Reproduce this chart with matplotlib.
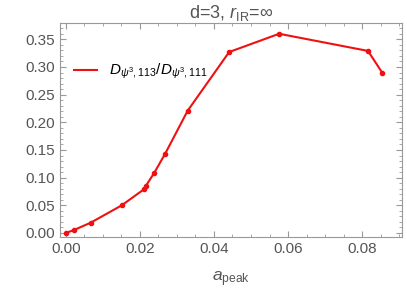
import matplotlib
matplotlib.use("Agg")
import matplotlib.pyplot as plt
from matplotlib.ticker import MultipleLocator

# Data
a_peak = [0.0, 0.0022, 0.0067, 0.0151, 0.0211, 0.0216, 0.0239, 0.0268,
          0.0329, 0.0441, 0.0576, 0.0816, 0.0855]
ratio = [0.0, 0.0054, 0.0186, 0.050, 0.079, 0.085, 0.109, 0.143,
         0.221, 0.327, 0.360, 0.329, 0.289]

title = r"d=3, $r_{\mathrm{IR}}$=$\infty$"
legend_label = r"$D_{\psi^3,113}/D_{\psi^3,111}$"
x_ticks = [0.00, 0.02, 0.04, 0.06, 0.08]
y_ticks = [0.00, 0.05, 0.10, 0.15, 0.20, 0.25, 0.30, 0.35]

plt.rcParams['font.family'] = ['Liberation Sans', 'DejaVu Sans']
plt.rcParams['mathtext.fontset'] = 'custom'
plt.rcParams['mathtext.rm'] = 'Liberation Sans'
plt.rcParams['mathtext.it'] = 'Liberation Sans:italic'

gray = '#555555'
red = '#ee1111'
fig = plt.figure(figsize=(4.07, 2.91), dpi=100)
ax = fig.add_axes([60.3 / 407, 1 - 236.7 / 291, (401.7 - 60.3) / 407, (236.7 - 22.7) / 291])

# line (legend entry) and points drawn separately so the legend shows only the line
ax.plot(a_peak, ratio, color=red, linewidth=1.5, label=legend_label)
ax.plot(a_peak, ratio, linestyle='none', color=red, marker='o', markersize=3)

ax.set_xlim(-0.0015, 0.0907)
ax.set_ylim(-0.0067, 0.380)
ax.set_xticks(x_ticks)
ax.set_yticks(y_ticks)
ax.set_xticklabels([f"{v:.2f}" for v in x_ticks])
ax.set_yticklabels([f"{v:.2f}" for v in y_ticks])
ax.xaxis.set_minor_locator(MultipleLocator(0.005))
ax.yaxis.set_minor_locator(MultipleLocator(0.01))
ax.tick_params(which='both', direction='in', top=True, right=True, colors='#999999',
               labelcolor=gray, labelsize=11)
ax.tick_params(which='major', length=4, width=0.8)
ax.tick_params(which='minor', length=2, width=0.6)
for s in ax.spines.values():
    s.set_color('#999999')
    s.set_linewidth(0.8)

ax.set_title(title, color=gray, fontsize=13, pad=3)
ax.set_xlabel(r"$a_{\mathrm{peak}}$", color=gray, fontsize=12.5, labelpad=10)

ax.legend(loc='upper left', bbox_to_anchor=(0.0, 0.88), frameon=False, fontsize=11,
          handlelength=1.5, labelcolor='black')

fig.savefig("out.png", dpi=100)
